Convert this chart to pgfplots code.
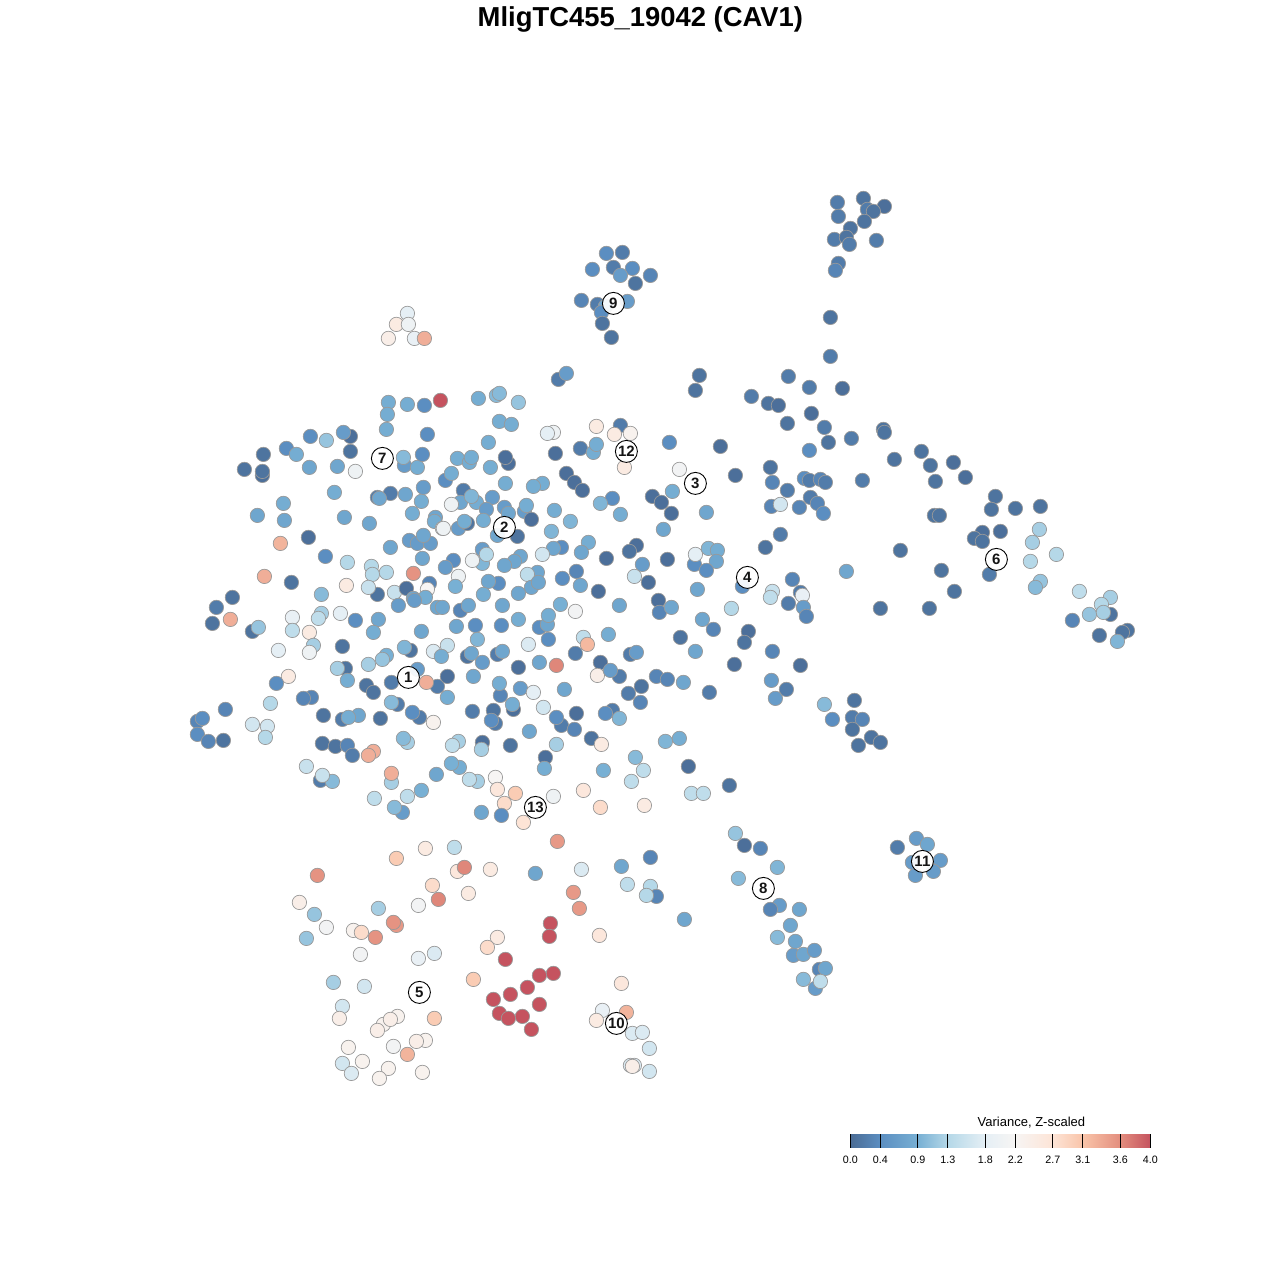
\documentclass[border=0pt]{standalone}
\usepackage{fontspec}
\setmainfont{Liberation Sans}
\usepackage{pgfplots}
\usepackage{pgfplotstable}
\pgfplotsset{compat=1.18}
% coordinates are pixels of the reference, v is the scaled variance
\pgfplotstableread{
x y v
350 436 .05
343 432 .6
388 402 .85
407 404 .85
424 405 .4
440 400 4
387 414 .85
386 429 .85
427 434 .4
310 436 .4
326 440 1.1
286 448 .4
296 454 .85
263 454 .1
350 451 .1
244 469 .1
262 475 .05
262 471 .1
309 467 .75
337 466 .75
355 471 2.0
404 465 .6
403 457 1.0
417 467 .85
422 454 .4
334 492 .85
377 497 .2
390 493 .2
379 498 .75
405 494 .75
423 487 .6
421 501 .85
283 503 .85
257 515 .75
284 520 .75
344 517 .75
369 523 .75
412 513 .85
435 517 .75
434 521 .85
442 528 2.0
308 537 .05
280 543 3.25
325 556 .4
347 562 1.3
390 547 .75
409 540 .6
417 543 .6
430 543 .6
423 535 .75
422 558 .75
371 566 1.3
372 574 1.3
386 572 1.3
413 573 3.55
264 576 3.3
291 582 .1
346 585 2.5
232 597 .1
321 594 1.0
377 594 .1
368 587 1.5
394 592 1.5
406 588 .05
429 583 .3
427 589 2.2
413 598 .75
425 597 .85
216 607 .2
212 623 .1
230 619 3.3
398 605 .6
414 600 .6
437 607 .75
252 631 .1
258 627 1.1
292 617 1.9
292 630 1.4
321 613 1.2
318 618 1.4
340 613 1.8
355 620 .4
378 619 .75
373 632 .85
421 631 .75
309 632 2.5
313 645 1.2
309 652 2.0
278 650 1.8
342 646 .1
410 650 .1
404 647 .95
433 651 1.7
447 645 1.5
441 656 .85
386 655 .9
382 659 1.1
368 664 1.2
345 668 .1
337 668 1.2
347 680 .85
366 685 .1
373 692 .1
391 682 .2
417 669 .6
437 686 .2
426 682 3.3
447 676 .05
288 676 2.5
276 683 .4
311 697 .3
303 698 .3
270 703 1.3
447 697 .85
397 704 .2
391 702 1.0
419 717 .2
412 712 .4
433 722 2.3
225 709 .3
323 715 .1
380 718 .1
342 719 .2
358 715 .75
348 717 .85
197 721 .3
202 718 .4
197 734 .4
208 741 .3
223 740 .1
252 724 1.6
267 726 1.6
265 737 1.3
322 743 .1
335 746 .1
347 745 .3
352 755 .2
373 751 3.3
368 755 3.3
407 742 1.2
403 738 1.0
306 766 1.5
391 782 1.2
391 773 3.3
320 780 .2
332 781 1.0
322 775 1.5
436 774 .75
374 798 1.4
407 796 1.4
421 790 .9
402 812 .6
394 807 1.0
478 398 .85
496 395 1.0
499 393 1.0
518 402 1.1
499 421 .85
511 424 .85
488 442 .85
553 432 2.0
547 433 1.8
596 426 2.5
620 425 .2
614 434 2.5
630 433 2.3
555 453 .05
580 448 .2
593 452 .85
596 444 .85
624 467 2.5
669 442 .4
720 446 .05
679 469 2.1
735 475 .05
508 463 .05
505 457 .05
457 458 .85
469 462 .85
471 457 .85
490 467 .85
445 480 .4
451 473 .85
505 483 .85
566 473 .05
574 482 .05
582 490 .05
542 483 .85
533 486 .85
463 490 .2
460 502 .75
476 502 .85
471 496 .95
451 504 2.0
492 497 .6
486 509 .6
504 507 .6
508 513 .75
524 511 .6
526 505 .85
531 519 .05
554 510 .85
570 521 .95
612 498 .4
600 503 .95
620 514 .85
652 496 .05
661 502 .05
672 491 .85
671 513 .05
706 512 .75
663 529 .75
483 520 .85
458 528 .6
467 523 .1
464 521 .85
443 528 2.0
517 536 .1
497 535 .75
551 531 .95
561 547 .4
553 548 .75
588 542 .85
581 552 .75
542 554 1.6
520 556 .75
514 561 .75
504 565 .75
482 549 .6
482 563 .95
486 554 1.3
472 560 2.0
453 560 .4
445 567 .6
458 576 2.0
455 586 .9
498 583 .4
488 581 .75
483 594 .85
537 572 .75
527 574 1.4
531 587 .75
538 582 .75
518 593 .75
562 578 .4
576 571 .3
580 585 .75
598 591 .05
606 558 .05
636 545 .05
629 551 .1
642 564 .6
667 559 .05
634 576 1.5
648 582 .05
658 600 .05
694 564 .4
695 554 1.8
708 548 .95
717 550 .85
716 561 .75
706 570 .4
697 589 .75
460 610 .3
468 605 .75
502 605 .75
560 604 .9
575 611 2.1
619 605 .75
659 612 .3
671 607 .75
731 608 1.3
442 607 .75
539 627 .4
547 624 .75
548 615 .85
518 619 .85
456 626 .75
475 625 .4
501 625 .4
702 619 .75
713 629 .3
608 634 .85
680 637 .1
477 639 .95
548 639 .4
583 637 1.4
587 644 3.2
528 644 1.7
695 651 .75
497 654 .2
502 651 .75
467 656 .1
471 653 .75
575 653 .2
630 654 .2
636 652 .6
482 662 .6
539 662 .75
556 665 3.65
600 662 .05
518 667 .05
734 664 .05
473 676 .75
597 675 2.4
619 676 .2
610 670 .6
656 676 .3
667 679 .3
683 682 .75
500 695 .3
499 683 .85
520 688 .6
533 692 1.8
564 689 .75
641 686 .1
628 693 .2
709 692 .2
640 702 .3
513 709 .05
512 704 .85
543 707 1.6
493 710 .1
472 711 .2
495 723 .2
491 720 .4
576 713 .05
612 710 .2
605 713 .4
619 718 .95
561 725 .2
556 717 .4
574 729 .3
529 731 .75
591 738 .1
601 744 2.5
665 741 .95
679 738 .85
482 742 .05
481 749 1.2
458 741 1.2
452 745 1.4
510 745 .1
556 744 1.2
545 757 .05
544 768 .85
635 757 1.0
643 770 1.4
603 770 .9
688 766 .05
631 781 1.4
729 785 .1
459 767 .85
451 763 .9
477 781 1.2
469 779 1.4
495 777 2.2
497 789 2.6
515 793 3.0
553 796 2.0
583 790 2.6
691 793 1.4
703 793 1.4
504 803 2.8
481 812 .75
501 815 .4
523 822 2.7
600 807 2.8
644 805 2.5
863 198 .1
837 202 .2
884 206 .05
867 209 .2
873 211 .1
838 216 .2
864 221 .1
850 228 .1
834 239 .2
846 237 .1
849 244 .2
876 240 .2
838 263 .2
835 270 .3
606 253 .4
622 252 .2
613 267 .2
632 268 .4
592 269 .4
620 275 .6
650 275 .3
635 283 .1
581 300 .3
597 304 .2
627 301 .6
605 306 .75
601 312 .4
602 323 .1
611 337 .1
407 313 1.8
396 324 2.5
408 324 2.0
388 338 2.4
414 338 1.9
424 338 3.3
558 379 .2
566 373 .6
830 317 .1
830 356 .2
699 375 .1
695 390 .1
788 376 .2
809 387 .2
842 388 .05
751 396 .2
768 403 .1
778 405 .05
811 413 .05
787 423 .1
824 427 .2
828 442 .1
851 438 .2
883 429 .1
884 432 .1
809 450 .4
894 459 .1
921 451 .1
930 465 .1
953 462 .05
935 481 .1
965 477 .05
862 480 .2
770 467 .1
772 482 .3
787 490 .2
804 478 .4
809 480 .2
820 479 .3
825 482 .2
995 496 .1
991 509 .1
1015 508 .1
1040 506 .1
934 515 .1
939 515 .1
982 532 .05
1000 531 .05
974 538 .1
982 541 .1
1039 529 1.2
1032 542 1.2
1056 554 1.3
1030 561 1.3
900 550 .1
941 570 .1
989 574 .2
1040 581 1.1
1035 587 1.0
954 591 .1
880 608 .1
929 608 .1
846 571 .75
1079 591 1.4
1110 597 1.2
1110 614 .1
1101 604 1.3
1089 614 1.1
1103 612 1.2
1072 620 .3
1099 635 .1
1127 630 .1
1122 632 .1
1117 641 .95
810 497 .2
817 503 .3
799 507 .3
823 513 .4
771 506 .3
780 504 1.6
780 534 .2
765 547 .1
742 586 .4
772 591 1.5
770 597 1.4
792 579 .3
788 603 .2
800 592 .2
802 595 1.9
803 607 .6
806 616 .3
748 631 .05
744 642 .1
772 651 .3
800 665 .05
771 680 .6
786 689 .2
775 698 .6
824 704 1.0
854 700 .1
832 719 .4
852 717 .2
862 719 .3
852 729 .1
871 737 .1
880 742 .1
858 745 .1
735 833 1.1
744 845 .05
760 848 .3
777 867 .95
738 878 1.0
779 905 .6
770 909 .3
799 909 .75
790 925 .75
777 937 1.0
795 941 .75
793 955 .6
803 954 .75
814 950 .6
819 969 .3
825 968 .75
803 979 1.0
815 988 .6
820 981 1.4
916 838 .6
927 844 .75
897 847 .2
940 860 .6
912 862 .6
933 871 .6
915 875 .6
557 841 3.5
650 857 .3
396 858 3.0
425 848 2.5
454 847 1.4
317 875 3.55
457 871 2.6
464 867 3.65
490 869 2.5
535 873 .75
581 869 1.7
621 866 .75
299 902 2.4
432 885 2.8
438 899 3.65
468 893 2.5
573 892 3.5
579 908 3.5
627 884 1.4
650 886 1.3
656 896 .3
646 895 1.3
314 914 1.1
378 908 1.2
418 905 2.1
684 919 .75
326 927 2.1
306 938 1.1
353 930 2.3
361 932 2.8
375 937 3.55
396 925 3.5
393 922 3.55
550 923 4
549 936 4
497 937 2.5
487 947 2.8
599 935 2.6
360 954 2.1
418 958 1.9
434 953 1.7
505 959 4
333 982 1.2
364 986 1.6
473 979 3.0
539 975 4
553 973 4
527 987 4
510 994 4
493 999 4
539 1004 4
621 983 2.6
342 1006 1.6
339 1018 2.4
397 1016 2.3
383 1024 2.3
390 1019 2.4
377 1030 2.4
434 1018 3.0
499 1013 4
508 1018 4
522 1016 4
531 1029 4
602 1010 1.9
626 1012 3.25
596 1020 2.5
632 1033 1.7
642 1032 1.7
649 1048 1.6
425 1040 2.3
416 1041 2.4
393 1046 2.1
348 1047 2.3
407 1054 3.25
342 1063 1.6
362 1061 2.3
351 1073 1.7
388 1068 2.3
422 1072 2.3
379 1078 2.3
630 1065 1.7
634 1065 1.7
632 1066 2.4
649 1071 1.6
}\cells
\pgfplotstableread{
x y lab
408 677 1
504 527 2
695 483 3
747 577 4
419 992 5
996 559 6
382 458 7
763 888 8
613 303 9
616 1023 10
922 861 11
626 451 12
535 807 13
}\clusters
\pgfplotsset{
  colormap={varz}{
    rgb255(0pt)=(74,107,148)
    rgb255(4pt)=(91,142,193)
    rgb255(9pt)=(120,176,212)
    rgb255(13pt)=(181,216,232)
    rgb255(18pt)=(229,239,245)
    rgb255(22pt)=(247,245,244)
    rgb255(27pt)=(253,228,214)
    rgb255(31pt)=(249,196,169)
    rgb255(36pt)=(227,142,126)
    rgb255(40pt)=(197,83,95)
  }
}
\begin{document}
\begin{tikzpicture}[x=1pt,y=1pt]
\begin{axis}[
  at={(0pt,0pt)},anchor=south west,
  scale only axis,width=1280pt,height=1280pt,
  xmin=-0.4,xmax=1279.6,ymin=-0.4,ymax=1279.6,y dir=reverse,
  hide axis,clip=false,
]
\addplot[scatter,only marks,mark=*,mark size=7.2pt,
  point meta=explicit,point meta min=0,point meta max=4,
  scatter/use mapped color={draw=black!40,fill=mapped color,line width=0.7pt},
] table[x=x,y=y,meta=v] {\cells};
\addplot[only marks,mark=*,mark size=11pt,
  mark options={draw=black,fill=white,fill opacity=0.92,line width=0.9pt},
  nodes near coords,point meta=explicit symbolic,
  every node near coord/.style={anchor=center,font=\fontsize{15}{15}\selectfont\bfseries,text=black,inner sep=0pt},
] table[x=x,y=y,meta=lab] {\clusters};
\node[font=\fontsize{27.4}{30}\selectfont\bfseries,anchor=center] at (axis cs:640,19.5) {MligTC455\_19042 (CAV1)};
\node[font=\fontsize{13}{13}\selectfont,anchor=center] at (axis cs:1031,1122.5) {Variance, Z-scaled};
\end{axis}
\begin{axis}[
  at={(850.3pt,132pt)},anchor=south west,
  scale only axis,width=300pt,height=14pt,
  xmin=0,xmax=4,ymin=0,ymax=1,
  view={0}{90},
  axis x line=bottom,axis y line=none,
  axis line style={draw=none},
  axis on top,
  point meta min=0,point meta max=4,
  xtick={0,0.4,0.9,1.3,1.8,2.2,2.7,3.1,3.6,4},
  xticklabels={0.0,0.4,0.9,1.3,1.8,2.2,2.7,3.1,3.6,4.0},
  tick align=inside,major tick length=14pt,
  tick style={black,line width=0.9pt},
  xtick pos=bottom,
  xticklabel style={font=\fontsize{10.7}{10.7}\selectfont,yshift=-4pt},
]
\addplot3[surf,shader=interp,point meta=x] coordinates {
(0,0,0)(0.4,0,0)(0.9,0,0)(1.3,0,0)(1.8,0,0)(2.2,0,0)(2.7,0,0)(3.1,0,0)(3.6,0,0)(4,0,0)

(0,1,0)(0.4,1,0)(0.9,1,0)(1.3,1,0)(1.8,1,0)(2.2,1,0)(2.7,1,0)(3.1,1,0)(3.6,1,0)(4,1,0)
};
\end{axis}
\path (0pt,0pt) rectangle (1280pt,1280pt);
\end{tikzpicture}
\end{document}
